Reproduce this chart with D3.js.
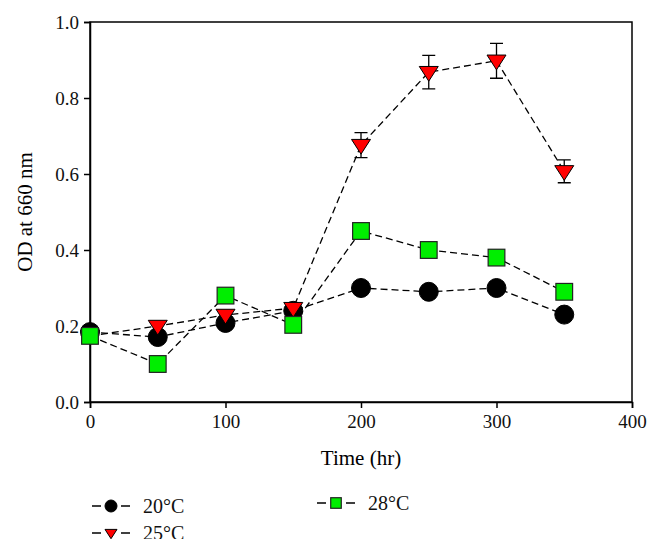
<!DOCTYPE html>
<html>
<head>
<meta charset="utf-8">
<script src="https://cdn.jsdelivr.net/npm/d3@7"></script>
<style>
  body { margin: 0; background: #fff; }
  svg text { font-family: "Liberation Serif", "DejaVu Serif", serif; }
</style>
</head>
<body>
<div id="caja"></div>
<script>
// datos
var tiempos = [0, 50, 100, 150, 200, 250, 300, 350];
var od20 = [0.184, 0.171, 0.208, 0.24, 0.30, 0.29, 0.30, 0.23];
var od25 = [0.174, 0.20, 0.229, 0.247, 0.676, 0.868, 0.898, 0.607];
var err25 = [0, 0, 0, 0, 0.033, 0.044, 0.046, 0.030];
var od28 = [0.174, 0.10, 0.28, 0.203, 0.45, 0.40, 0.38, 0.29];
var err28 = [0, 0, 0, 0, 0.016, 0, 0, 0];
var xTicks = [0, 100, 200, 300, 400];
var yTicks = [0, 0.2, 0.4, 0.6, 0.8, 1.0];

var w = 661, h = 554;
var m = {left: 90, right: 29, top: 22, bottom: 152};

var svg = d3.select('#caja').append('svg')
  .attr('width', w).attr('height', h);

var x = d3.scaleLinear().domain([0, 400]).range([m.left, w - m.right]);
var y = d3.scaleLinear().domain([0, 1]).range([h - m.bottom, m.top]);

// marco
svg.append('rect')
  .attr('x', x(0)).attr('y', y(1))
  .attr('width', x(400) - x(0)).attr('height', y(0) - y(1))
  .attr('fill', 'none').attr('stroke', '#000').attr('stroke-width', 1.5);

// ejes
var ax = svg.append('g').attr('transform', 'translate(0,' + y(0) + ')')
  .call(d3.axisBottom(x).tickValues(xTicks).tickSize(6).tickPadding(7).tickFormat(d3.format('d')));
var ay = svg.append('g').attr('transform', 'translate(' + x(0) + ',0)')
  .call(d3.axisLeft(y).tickValues(yTicks).tickSize(6).tickPadding(5).tickFormat(d3.format('.1f')));
[ax, ay].forEach(function(a) {
  a.select('.domain').attr('stroke-width', 1.5);
  a.selectAll('.tick line').attr('stroke-width', 1.5);
  a.selectAll('text').attr('font-size', '19px').attr('fill', '#111')
    .style('font-family', '"Liberation Serif", serif');
});

svg.append('text').text('Time (hr)')
  .attr('x', 361).attr('y', 465)
  .attr('text-anchor', 'middle').attr('font-size', '21px');
svg.append('text').text('OD at 660 nm')
  .attr('transform', 'translate(32,212) rotate(-90)')
  .attr('text-anchor', 'middle').attr('font-size', '21px');

var series = [
  {nombre: '20\u00b0C', vals: od20, err: null, forma: 'circle', color: '#000'},
  {nombre: '25\u00b0C', vals: od25, err: err25, forma: 'triangle', color: '#ff0000'},
  {nombre: '28\u00b0C', vals: od28, err: err28, forma: 'square', color: '#00ee00'}
];

var linea = d3.line()
  .x(function(d) { return x(d[0]); })
  .y(function(d) { return y(d[1]); });

function marca(g, forma, color, s) {
  if (forma === 'circle') {
    g.append('circle').attr('r', s * 0.5).attr('fill', '#000').attr('stroke', '#000');
  } else if (forma === 'triangle') {
    var a = s * 0.5;
    g.append('path')
      .attr('d', 'M' + (-a) + ',' + (-a * 0.6) + 'L' + a + ',' + (-a * 0.6) + 'L0,' + (a * 0.95) + 'Z')
      .attr('fill', color).attr('stroke', '#000').attr('stroke-width', 1);
  } else {
    var b = s * 0.44;
    g.append('rect').attr('x', -b).attr('y', -b).attr('width', 2 * b).attr('height', 2 * b)
      .attr('fill', color).attr('stroke', '#222').attr('stroke-width', 1.2);
  }
}

series.forEach(function(s) {
  var pts = tiempos.map(function(t, i) { return [t, s.vals[i]]; });
  svg.append('path').datum(pts)
    .attr('d', linea).attr('fill', 'none')
    .attr('stroke', '#000').attr('stroke-width', 1.3)
    .attr('stroke-dasharray', '7,4');
});

// orden de dibujo: circulos, triangulos, cuadrados
series.forEach(function(s) {
  tiempos.forEach(function(t, i) {
    var g = svg.append('g').attr('transform', 'translate(' + x(t) + ',' + y(s.vals[i]) + ')');
    if (s.err && s.err[i] > 0) {
      var e = y(s.vals[i] - s.err[i]) - y(s.vals[i]);
      g.append('path')
        .attr('d', 'M0,' + (-e) + 'V' + e + 'M-6.5,' + (-e) + 'H6.5M-6.5,' + e + 'H6.5')
        .attr('stroke', '#000').attr('stroke-width', 1.3).attr('fill', 'none');
    }
    marca(g, s.forma, s.color, 19);
  });
});

// leyenda (la imagen original corta la segunda fila)
svg.append('clipPath').attr('id', 'corte')
  .append('rect').attr('x', 0).attr('y', 0).attr('width', w).attr('height', 539);
var ley = svg.append('g').attr('clip-path', 'url(#corte)');
var leyenda = [
  {s: series[0], x: 92, y: 506},
  {s: series[1], x: 92, y: 533},
  {s: series[2], x: 317, y: 503}
];
leyenda.forEach(function(l) {
  var g = ley.append('g').attr('transform', 'translate(' + l.x + ',' + l.y + ')');
  g.append('path').attr('d', 'M0,0H9M29,0H38').attr('stroke', '#000').attr('stroke-width', 1.3);
  var mg = g.append('g').attr('transform', 'translate(19,0)');
  marca(mg, l.s.forma, l.s.color, 12);
  g.append('text').text(l.s.nombre).attr('x', 51).attr('y', 7)
    .attr('font-size', '20px').attr('fill', '#111');
});
</script>
</body>
</html>
